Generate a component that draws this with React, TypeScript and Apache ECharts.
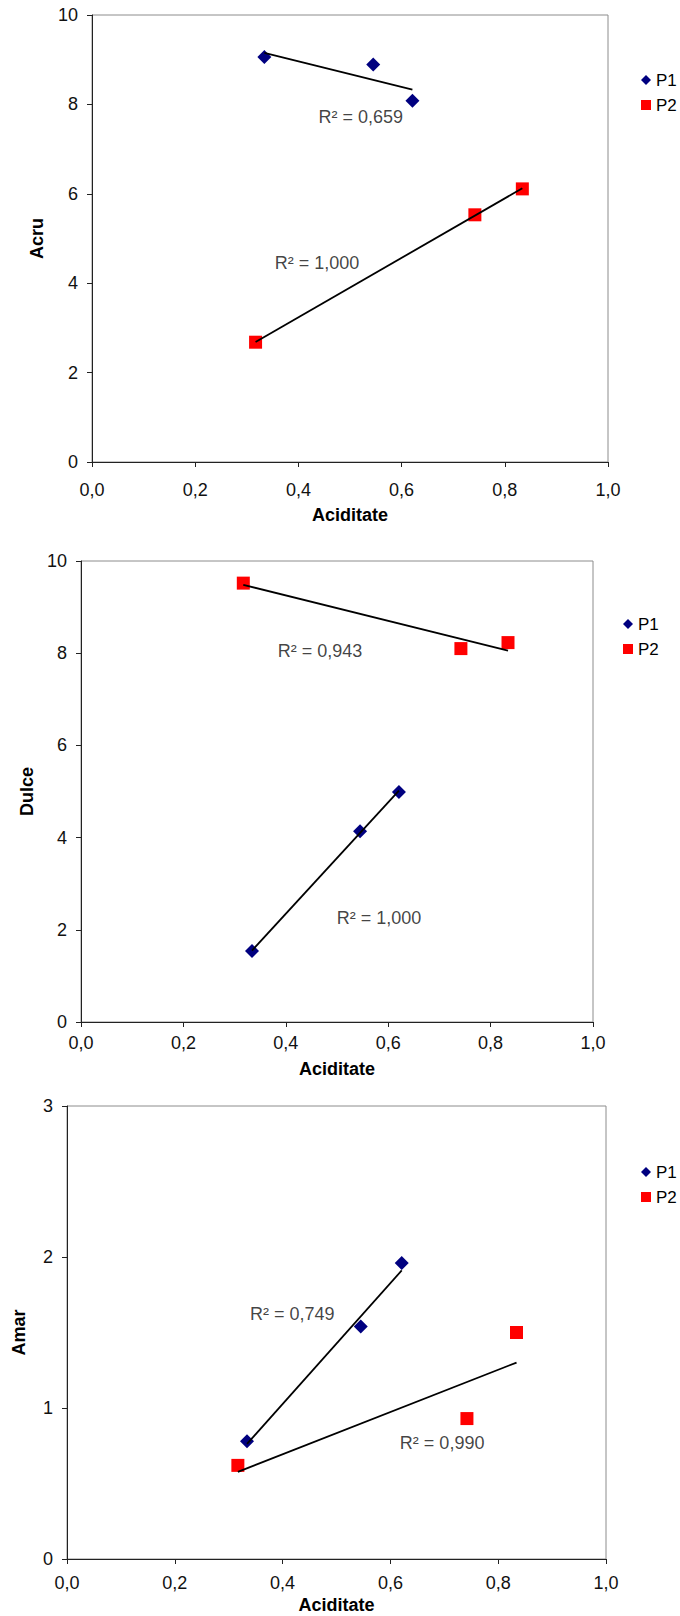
import React, { useEffect, useRef } from "react";
import * as echarts from "echarts";

// ---- Data ----
const seriesNames = ["P1", "P2"];
const xAxisName = "Aciditate";
const yAxisNames = ["Acru", "Dulce", "Amar"];

// Aciditate (x) values
const p1Acid = [0.334, 0.545, 0.621];
const p2Acid = [0.317, 0.742, 0.834];

// Acru
const acruP1 = [9.06, 8.89, 8.08];
const acruP2 = [2.68, 5.53, 6.11];
// Dulce
const dulceP1 = [1.54, 4.14, 4.99];
const dulceP2 = [9.52, 8.1, 8.23];
// Amar
const amarP1 = [0.78, 1.54, 1.96];
const amarP2 = [0.62, 0.93, 1.5];

// R² annotation texts (P1, P2)
const r2Acru = ["R² = 0,659", "R² = 1,000"];
const r2Dulce = ["R² = 1,000", "R² = 0,943"];
const r2Amar = ["R² = 0,749", "R² = 0,990"];

// y axis ranges
const yMaxes = [10, 10, 3];
const yIntervals = [2, 2, 1];

// ---- Annotation anchors (data coordinates) ----
const r2Anchors = [
  [[0.521, 7.71], [0.436, 4.45]],
  [[0.582, 2.26], [0.467, 8.04]],
  [[0.418, 1.62], [0.696, 0.767]],
];

// ---- Layout ----
const layouts = [
  { grid: { left: 92, top: 15, width: 516, height: 447 }, xLabelMargin: 19, xNameGap: 44, yNameGap: 46, legend: { left: 641, top: 70 } },
  { grid: { left: 81, top: 561, width: 512, height: 461 }, xLabelMargin: 12, xNameGap: 38, yNameGap: 39, legend: { left: 623, top: 614 } },
  { grid: { left: 67, top: 1106, width: 539, height: 453 }, xLabelMargin: 15, xNameGap: 37, yNameGap: 39, legend: { left: 641, top: 1162 } },
];

const FONT = "'Liberation Sans', Arial, Helvetica, sans-serif";

function fitLine(xs: number[], ys: number[]): number[][] {
  const n = xs.length;
  const mx = xs.reduce((a, b) => a + b, 0) / n;
  const my = ys.reduce((a, b) => a + b, 0) / n;
  let sxy = 0;
  let sxx = 0;
  for (let i = 0; i < n; i++) {
    sxy += (xs[i] - mx) * (ys[i] - my);
    sxx += (xs[i] - mx) * (xs[i] - mx);
  }
  const b = sxy / sxx;
  const a = my - b * mx;
  const x0 = Math.min(...xs);
  const x1 = Math.max(...xs);
  return [
    [x0, a + b * x0],
    [x1, a + b * x1],
  ];
}

function zip(xs: number[], ys: number[]) {
  return xs.map((x, i) => [x, ys[i]]);
}

export default function App() {
  const ref = useRef<HTMLDivElement>(null);

  useEffect(() => {
    if (!ref.current) return;
    const chart = echarts.init(ref.current, undefined, { renderer: "svg" });

    const panels = [
      { p1: acruP1, p2: acruP2, r2: r2Acru },
      { p1: dulceP1, p2: dulceP2, r2: r2Dulce },
      { p1: amarP1, p2: amarP2, r2: r2Amar },
    ];

    const grid: any[] = [];
    const xAxis: any[] = [];
    const yAxis: any[] = [];
    const legend: any[] = [];
    const series: any[] = [];

    panels.forEach((p, i) => {
      const L = layouts[i];
      grid.push({
        ...L.grid,
        show: true,
        borderColor: "#8c8c8c",
        borderWidth: 1,
        backgroundColor: "#fff",
      });
      xAxis.push({
        type: "value",
        gridIndex: i,
        min: 0,
        max: 1,
        interval: 0.2,
        name: xAxisName,
        nameLocation: "middle",
        nameGap: L.xNameGap,
        nameTextStyle: { fontFamily: FONT, fontWeight: "bold", fontSize: 18, color: "#000", verticalAlign: "top" },
        axisLine: { show: true, onZero: false, lineStyle: { color: "#222", width: 1 } },
        axisTick: { show: true, inside: false, length: 5, lineStyle: { color: "#222" } },
        splitLine: { show: false },
        axisLabel: {
          fontFamily: FONT,
          fontSize: 18,
          color: "#111",
          margin: L.xLabelMargin,
          formatter: (v: number) => v.toFixed(1).replace(".", ","),
        },
      });
      yAxis.push({
        type: "value",
        gridIndex: i,
        min: 0,
        max: yMaxes[i],
        interval: yIntervals[i],
        name: yAxisNames[i],
        nameLocation: "middle",
        nameGap: L.yNameGap,
        nameRotate: 90,
        nameTextStyle: { fontFamily: FONT, fontWeight: "bold", fontSize: 18, color: "#000" },
        axisLine: { show: true, onZero: false, lineStyle: { color: "#222", width: 1 } },
        axisTick: { show: true, inside: false, length: 5, lineStyle: { color: "#222" } },
        splitLine: { show: false },
        axisLabel: {
          fontFamily: FONT,
          fontSize: 18,
          color: "#111",
          margin: 14,
          formatter: (v: number) => String(Math.round(v)),
        },
      });
      legend.push({
        orient: "vertical",
        left: L.legend.left,
        top: L.legend.top,
        padding: 0,
        itemWidth: 10,
        itemHeight: 10,
        itemGap: 5,
        data: seriesNames,
        selectedMode: false,
        textStyle: { fontFamily: FONT, fontSize: 17, color: "#000", lineHeight: 20 },
      });

      series.push({
        type: "scatter",
        name: seriesNames[0],
        xAxisIndex: i,
        yAxisIndex: i,
        symbol: "diamond",
        symbolSize: 14,
        itemStyle: { color: "#000080", opacity: 1 },
        data: zip(p1Acid, p.p1),
        z: 3,
      });
      series.push({
        type: "scatter",
        name: seriesNames[1],
        xAxisIndex: i,
        yAxisIndex: i,
        symbol: "rect",
        symbolSize: 13,
        itemStyle: { color: "#ff0000", opacity: 1 },
        data: zip(p2Acid, p.p2),
        z: 3,
      });
      [zip(p1Acid, p.p1), zip(p2Acid, p.p2)].forEach((pts, k) => {
        series.push({
          type: "line",
          name: "trend" + i + k,
          xAxisIndex: i,
          yAxisIndex: i,
          symbol: "none",
          lineStyle: { color: "#000", width: 1.8 },
          data: fitLine(
            pts.map((d) => d[0]),
            pts.map((d) => d[1])
          ),
          z: 4,
          silent: true,
        });
      });
      series.push({
        type: "scatter",
        name: "r2" + i,
        xAxisIndex: i,
        yAxisIndex: i,
        symbol: "circle",
        symbolSize: 1,
        itemStyle: { color: "rgba(0,0,0,0)" },
        silent: true,
        z: 5,
        label: {
          show: true,
          position: "inside",
          fontFamily: FONT,
          fontSize: 18,
          color: "#111",
          formatter: (d: any) => d.name,
        },
        data: p.r2.map((t, k) => ({ name: t, value: r2Anchors[i][k] })),
      });
    });

    chart.setOption({
      animation: false,
      backgroundColor: "#fff",
      textStyle: { fontFamily: FONT },
      grid,
      xAxis,
      yAxis,
      legend,
      series,
    });

    return () => chart.dispose();
  }, []);

  return (
    <div
      ref={ref}
      style={{ position: "absolute", left: 0, top: 0, width: 680, height: 1616, background: "#fff" }}
    />
  );
}
